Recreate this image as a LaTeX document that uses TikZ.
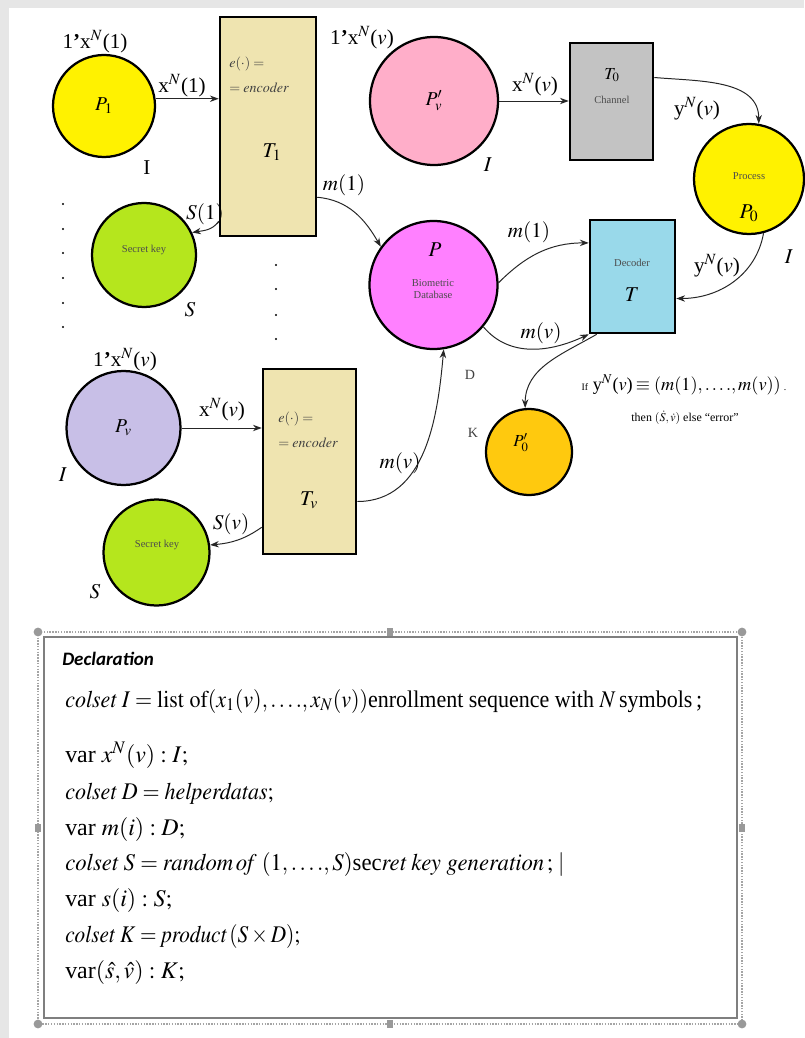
\documentclass[tikz,border=0pt]{standalone}
\usepackage{graphicx}
\usepackage{mathptmx}
\usepackage{fontspec}
\setmainfont{Liberation Serif}
\newfontfamily\headfont{Carlito}
\usetikzlibrary{arrows.meta,positioning}
\definecolor{framegray}{HTML}{E6E6E6}
\definecolor{placeyellow}{HTML}{FFF200}
\definecolor{transwheat}{HTML}{EFE4B0}
\definecolor{keygreen}{HTML}{B5E61D}
\definecolor{placepink}{HTML}{FFAEC9}
\definecolor{changray}{HTML}{C3C3C3}
\definecolor{dbmagenta}{HTML}{FF80FF}
\definecolor{decblue}{HTML}{99D9EA}
\definecolor{outorange}{HTML}{FFC90E}
\definecolor{placelav}{HTML}{C8BFE7}
\definecolor{declgray}{HTML}{7F7F7F}
\newcommand{\declsquash}[2][0.92]{\scalebox{#1}[1]{#2}}
\tikzset{
  placenode/.style={circle, draw=black, line width=1.6pt, inner sep=0pt,
    font=\fontsize{14}{16}\selectfont},
  transnode/.style={rectangle, draw=black, line width=1.8pt, inner sep=0pt},
  arcedge/.style={-{Stealth[length=2.2mm,width=1.6mm]}, draw=black!85, line width=0.7pt},
  arclabel/.style={inner sep=0pt, font=\fontsize{15}{17}\selectfont},
  smalltext/.style={inner sep=0pt, text=black!75, font=\fontsize{10}{12}\selectfont},
  tinytext/.style={inner sep=0pt, text=black!70, font=\fontsize{7.5}{8.5}\selectfont},
  declline/.style={anchor=base west, inner sep=0pt, font=\fontsize{17}{20}\selectfont},
  handle/.style={fill=declgray!80, draw=none},
}

\begin{document}
\begin{tikzpicture}[x=0.25mm, y=-0.25mm]
  \useasboundingbox (0,0) rectangle (804,1038);
  \fill[framegray] (0,0) rectangle (804,1038);
  \fill[white] (9,8) rectangle (804,1038);

  % enrollment of user 1
  \node[placenode, fill=placeyellow, minimum size=25.5mm] (p1) at (104,106) {$P_1$};
  \node[arclabel] (p1mark) at (95,42) {1{\bfseries\textquoteright}x$^{N}$(1)};
  \node[arclabel] (p1out) at (182,86) {x$^{N}$(1)};
  \node[arclabel] (p1set) at (147,168) {I};
  \node[transnode, fill=transwheat, minimum width=24mm, minimum height=54.75mm] (t1) at (268,126.5) {};
  \node[smalltext, anchor=west] (t1fun) at (229,64) {$e(\cdot)=$};
  \node[smalltext, anchor=west] (t1enc) at (229,88) {$=\mathit{encoder}$};
  \node[arclabel] (t1name) at (272,152) {$T_1$};
  \node[placenode, fill=keygreen, minimum size=26mm] (key1) at (144,255) {};
  \node[tinytext] (key1txt) at (144,250) {Secret key};
  \node[arclabel] (key1set) at (190,310) {$S$};
  \node[arclabel] (key1out) at (205,214) {$S(1)$};
  \node[arclabel] (t1out) at (344,185) {$m(1)$};

  % verification side
  \node[placenode, fill=placepink, minimum size=32mm] (pvp) at (434,101) {$P'_{v}$};
  \node[arclabel] (pvpmark) at (362,38) {1{\bfseries\textquoteright}x$^{N}$($v$)};
  \node[arclabel] (pvpout) at (535,85) {x$^{N}$($v$)};
  \node[arclabel] (pvpset) at (488,165) {$I$};
  \node[transnode, fill=changray, minimum width=20.75mm, minimum height=29.25mm] (chan) at (611.5,101.5) {};
  \node[arclabel, font=\fontsize{12}{14}\selectfont] (channame) at (612,75) {$T_0$};
  \node[tinytext] (chantxt) at (612,100) {Channel};
  \node[arclabel] (chanout) at (697,109) {y$^{N}$($v$)};
  \node[placenode, fill=placeyellow, minimum size=27.5mm] (proc) at (749,179) {};
  \node[tinytext] (proctxt) at (749,176) {Process};
  \node[arclabel] (procname) at (749,213) {$P_0$};
  \node[arclabel] (procset) at (789,257) {$I$};
  \node[arclabel] (procout) at (717,266) {y$^{N}$($v$)};
  \node[transnode, fill=decblue, minimum width=21.25mm, minimum height=28.25mm] (dec) at (632.5,276.5) {};
  \node[tinytext] (dectxt) at (632,263) {Decoder};
  \node[arclabel] (decname) at (632,295) {$T$};

  % helper data base and output
  \node[placenode, fill=dbmagenta, minimum size=32mm] (db) at (433.5,285) {};
  \node[arclabel] (dbname) at (435,250) {$P$};
  \node[tinytext, align=center] (dbtxt) at (433,289) {Biometric\\Database};
  \node[smalltext] (dbset) at (470,375) {D};
  \node[arclabel] (dbout1) at (529,232) {$m(1)$};
  \node[arclabel] (dbout2) at (541,333) {$m(v)$};
  \node[placenode, fill=outorange, minimum size=21.5mm] (out) at (529,452) {};
  \node[arclabel, font=\fontsize{12}{14}\selectfont] (outname) at (521,443) {$P'_0$};
  \node[smalltext] (outset) at (473,433) {K};
  \node[arclabel, font=\fontsize{13}{15}\selectfont] (rule1) at (684,385)
    {{\fontsize{7}{8}\selectfont If} y$^{N}$($v$)\,$\equiv(m(1),\ldots.,m(v))$\,{\fontsize{7}{8}\selectfont .}};
  \node[arclabel, font=\fontsize{8.5}{10}\selectfont] (rule2) at (685,418)
    {then $(\dot{S},\dot{v})$ else ``error''};

  % enrollment of user v
  \node[placenode, fill=placelav, minimum size=28.5mm] (pv) at (123.5,428) {$P_v$};
  \node[arclabel] (pvmark) at (125,360) {1{\bfseries\textquoteright}x$^{N}$($v$)};
  \node[arclabel] (pvout) at (222,410) {x$^{N}$($v$)};
  \node[arclabel] (pvset) at (63,475) {$I$};
  \node[transnode, fill=transwheat, minimum width=23.25mm, minimum height=46.25mm] (tv) at (309.5,461.5) {};
  \node[smalltext, anchor=west] (tvfun) at (278,419) {$e(\cdot)=$};
  \node[smalltext, anchor=west] (tvenc) at (278,443) {$=\mathit{encoder}$};
  \node[arclabel] (tvname) at (309,500) {$T_v$};
  \node[placenode, fill=keygreen, minimum size=26.5mm] (key2) at (156.5,552.5) {};
  \node[tinytext] (key2txt) at (157,545) {Secret key};
  \node[arclabel] (key2set) at (95,592) {$S$};
  \node[arclabel] (key2out) at (231,524) {$S(v)$};
  \node[arclabel] (tvout) at (400,463) {$m(v)$};

  % omitted users
  \foreach \y in {204,229,253,278,303,327}
    \fill (63,\y) circle (0.3mm);
  \foreach \y in {265,289,315,339}
    \fill (276,\y) circle (0.3mm);

  % arcs
  \draw[arcedge] (p1.8) -- (p1.8 -| t1.west);
  \draw[arcedge] ([yshift=4mm]t1.south west) to[out=235, in=10] (key1.25);
  \draw[arcedge] ([yshift=10mm]t1.south east) to[out=-5, in=120] (db.144);
  \draw[arcedge] (pvp.east) -- (pvp.east -| chan.west);
  \draw[arcedge] ([yshift=6mm]chan.east) to[out=-5, in=90] (proc.80);
  \draw[arcedge] (proc.-75) to[out=-100, in=0] ([yshift=-5.5mm]dec.east);
  \draw[arcedge] (db.2) to[out=45, in=180] ([yshift=8.4mm]dec.west);
  \draw[arcedge] (db.-40) to[out=-50, in=205] (dec.south west);
  \draw[arcedge] ([xshift=2mm]dec.south west) to[out=210, in=90] (out.95);
  \draw[arcedge] (pv.east) -- (pv.east -| tv.west);
  \draw[arcedge] ([yshift=7mm]tv.south west) to[out=215, in=5] (key2.8);
  \draw[arcedge] ([yshift=-10mm]tv.east) to[out=0, in=-95] (db.-81);

  % declaration frame
  \draw[declgray!70, dash pattern=on 1pt off 1pt, line width=0.8pt] (38,632) rectangle (742,1024);
  \draw[declgray, line width=1.4pt] (44,637) rectangle (737,1018);
  \foreach \hx/\hy in {38/632,742/632,38/1024,742/1024}
    \fill[handle] (\hx,\hy) circle (1.1mm);
  \foreach \hx/\hy in {390/632,390/1024,38/828,742/828}
    \fill[handle] (\hx-3,\hy-4) rectangle (\hx+3,\hy+4);
  \node[anchor=base west, inner sep=0pt, font=\headfont\bfseries\itshape\fontsize{13.5}{15}\selectfont] (declhead) at (62,665) {Declaration};
  \node[declline] (decl1) at (65,707) {\declsquash{$\mathit{colset}\; I = \mathrm{list\ of}(x_1(v),\ldots.,x_N(v))$enrollment sequence with $N$\,symbols\,;}};
  \node[declline] (decl2) at (65,762) {var $x^{N}(v) : I;$};
  \node[declline] (decl3) at (65,799) {\declsquash{$\mathit{colset}\; D = \mathit{helperdatas};$}};
  \node[declline] (decl4) at (65,835) {var $m(i) : D;$};
  \node[declline] (decl5) at (65,870) {\declsquash[0.95]{$\mathit{colset}\; S = \mathit{random\,of}\;(1,\ldots.,S)$sec$\mathit{ret}\;\mathit{key\ generation}\,;\,|$}};
  \node[declline] (decl6) at (65,906) {var $s(i) : S;$};
  \node[declline] (decl7) at (65,942) {\declsquash[0.89]{$\mathit{colset}\; K = \mathit{product}\,(S\times D);$}};
  \node[declline] (decl8) at (65,978) {var$(\hat{s},\hat{v}) : K;$};
\end{tikzpicture}
\end{document}
